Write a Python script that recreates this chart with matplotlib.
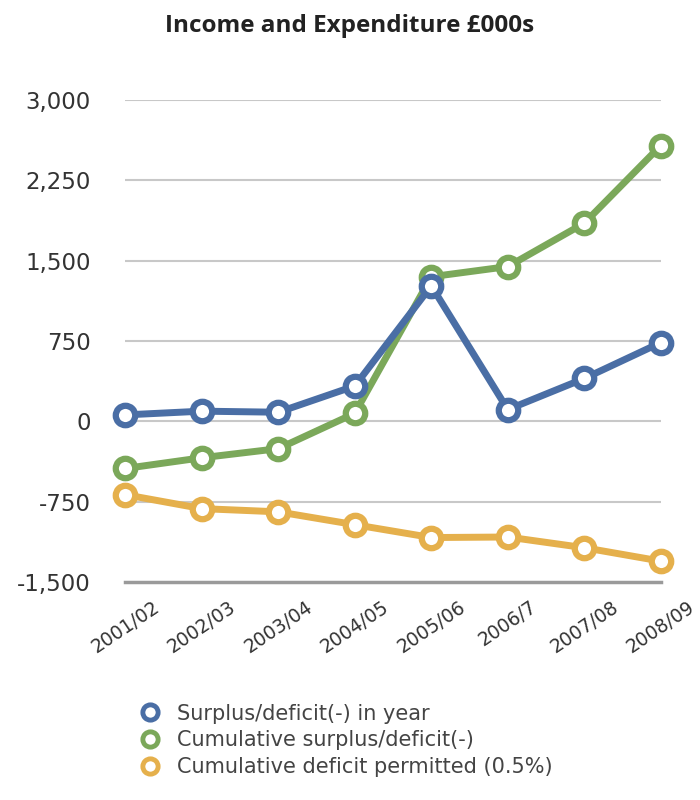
import numpy as np
import matplotlib.pyplot as plt

# datos
years = ['2001/02', '2002/03', '2003/04', '2004/05', '2005/06', '2006/7', '2007/08', '2008/09']
surplus = [60, 95, 85, 330, 1265, 110, 400, 735]
cumulative = [-440, -340, -255, 75, 1350, 1445, 1850, 2575]
permitted = [-685, -815, -845, -965, -1085, -1080, -1180, -1305]

labels = ['Surplus/deficit(-) in year',
          'Cumulative surplus/deficit(-)',
          'Cumulative deficit permitted (0.5%)']
colores = ['#4a6ea5', '#7ba85a', '#e5b04c']
yticks = [-1500, -750, 0, 750, 1500, 2250, 3000]

fig = plt.figure(figsize=(7, 8), dpi=100)
ax = fig.add_axes([0.179, 0.2725, 0.765, 0.6025])

x = np.arange(len(years))
series = [surplus, cumulative, permitted]
for i in [2, 1, 0]:  # azul encima
    ax.plot(x, series[i], color=colores[i], lw=5, marker='o', ms=14,
            mew=4.5, mec=colores[i], mfc='white', label=labels[i],
            solid_capstyle='round', zorder=3 + (2 - i), clip_on=False)

ax.set_xlim(0, 7)
ax.set_ylim(-1500, 3000)
ax.set_yticks(yticks)
ax.set_yticklabels([f'{v:,}' for v in yticks], fontsize=16.5, color='#333333',
                   family='DejaVu Sans')
ax.set_xticks(x)
ax.set_xticklabels(years, rotation=34, ha='center', fontsize=13.5,
                   color='#333333', family='DejaVu Sans')
ax.tick_params(axis='both', length=0)
ax.tick_params(axis='y', pad=25)
ax.tick_params(axis='x', pad=11)

for v in yticks[1:]:
    ax.axhline(v, color='#c8c8c8', lw=1.5, zorder=1)
for s in ['top', 'right', 'left']:
    ax.spines[s].set_visible(False)
ax.spines['bottom'].set_color('#9a9a9a')
ax.spines['bottom'].set_linewidth(2.5)

# leyenda solo con marcadores
handles = [plt.Line2D([], [], ls='none', marker='o', ms=11, mew=3.5,
                      mec=c, mfc='white') for c in colores]
fig.legend(handles, labels, loc='upper left', bbox_to_anchor=(0.199, 0.1205),
           frameon=False, handlelength=1.0, handletextpad=0.8, labelspacing=0.33,
           borderpad=0, borderaxespad=0,
           prop={'family': 'DejaVu Sans', 'size': 15}, labelcolor='#444444')

fig.suptitle('Income and Expenditure £000s', x=0.5, y=0.983, fontsize=17.5,
             fontweight='bold', family='Open Sans', color='#222222')

fig.savefig('out.png', dpi=100)
